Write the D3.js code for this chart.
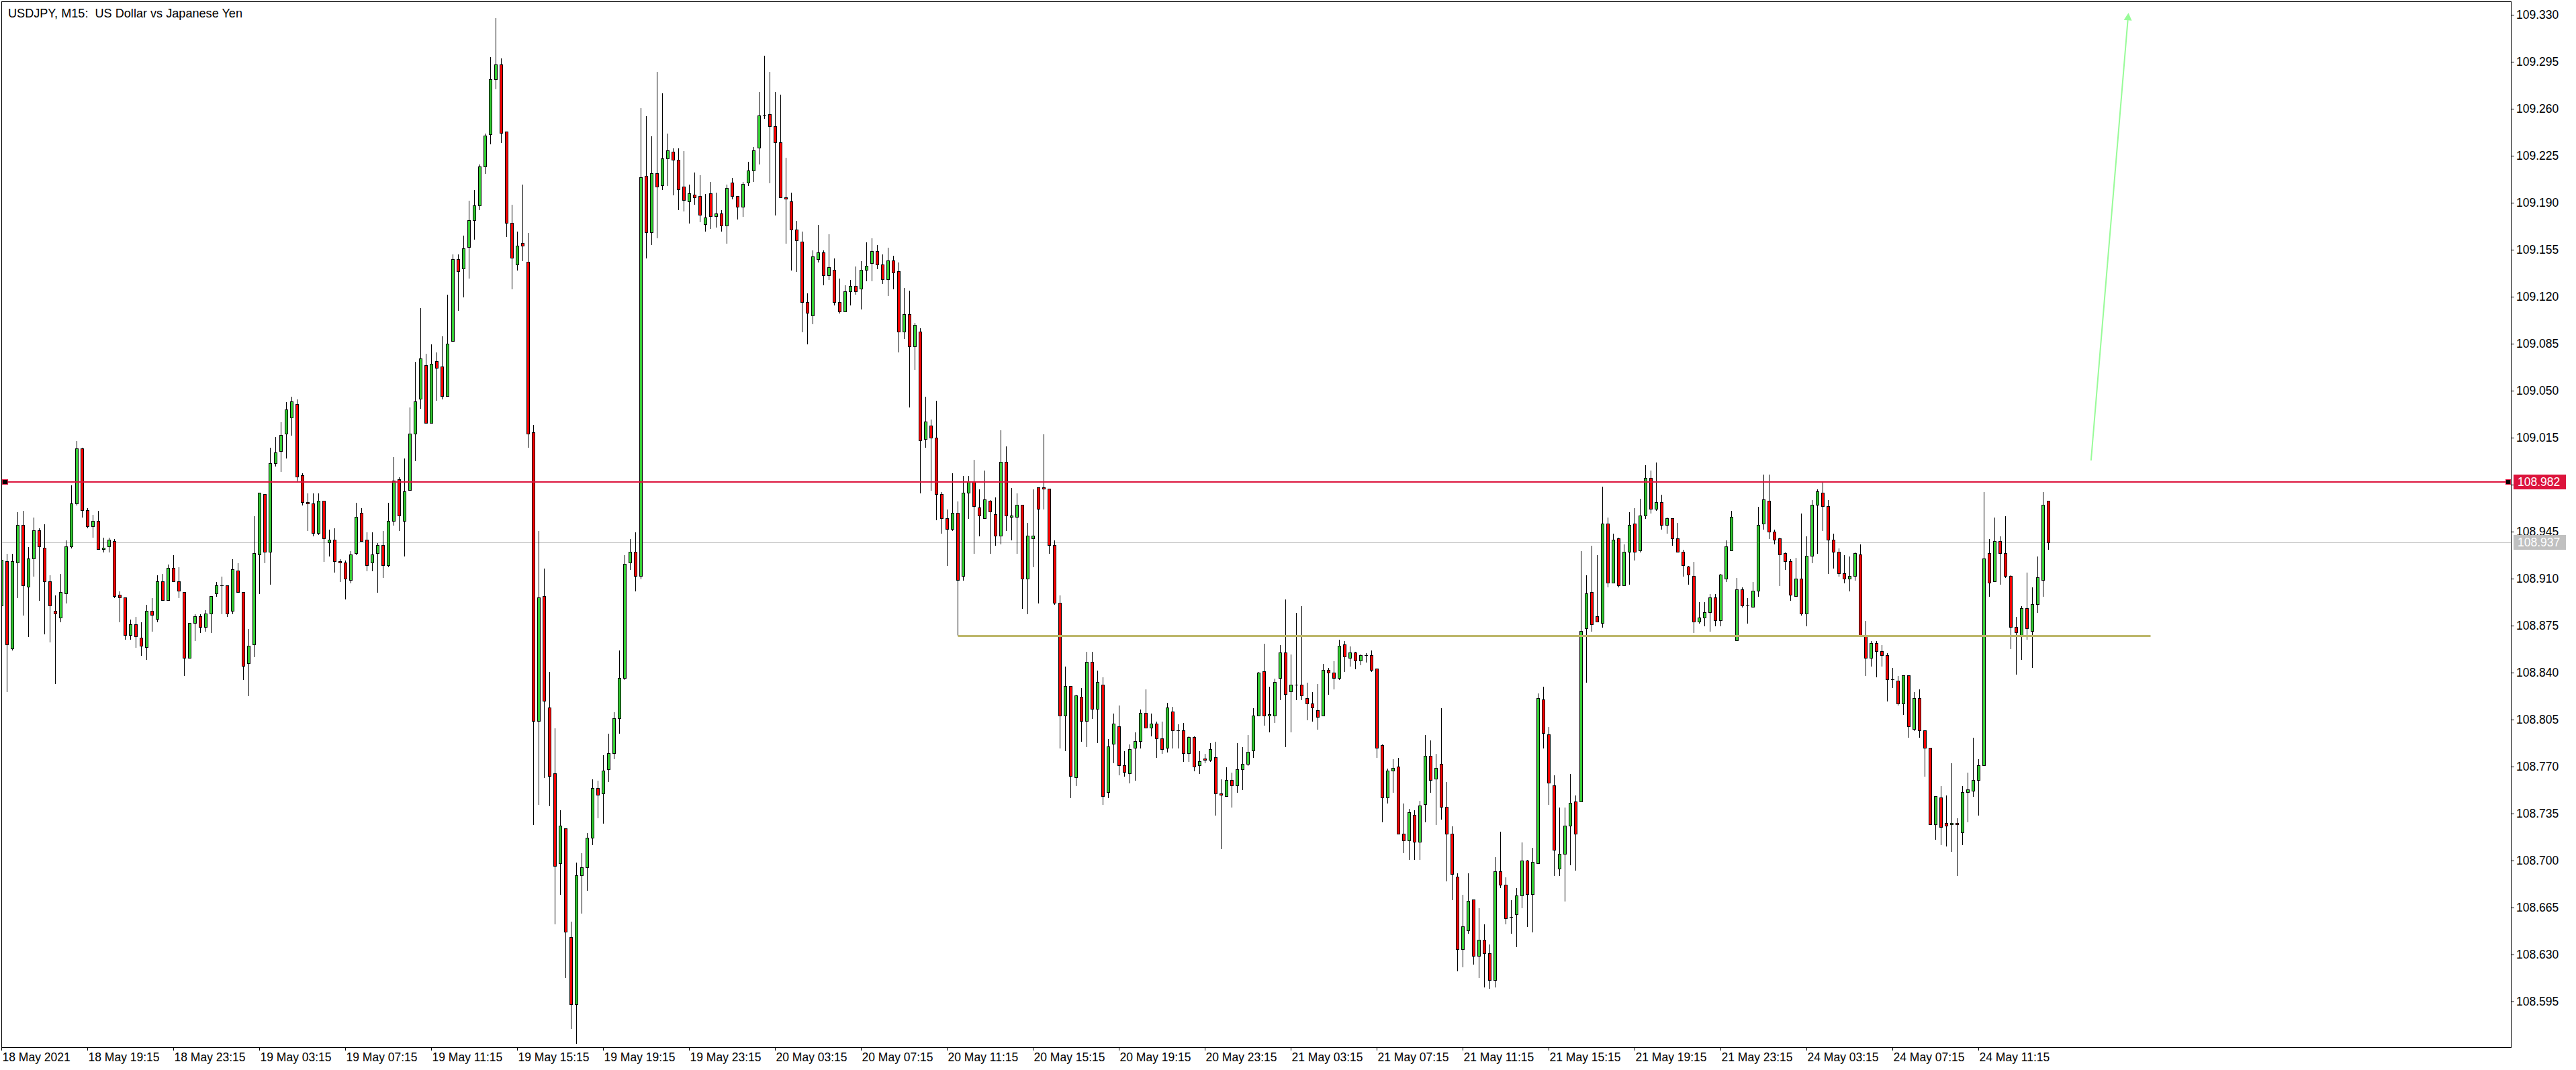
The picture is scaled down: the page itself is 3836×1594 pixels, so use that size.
<!DOCTYPE html>
<html><head><meta charset="utf-8">
<script src="https://cdn.jsdelivr.net/npm/d3@7"></script>
<style>
html,body{margin:0;padding:0;background:#fff;overflow:hidden;}
svg{display:block;}
</style></head><body>
<svg id="chart" width="3836" height="1594"></svg>
<script>
// ---- data (USDJPY M15, bars left to right) ----
const opens = [
108.890,108.923,108.858,108.922,108.950,108.904,108.925,108.946,108.933,108.908,
108.886,108.881,108.899,108.934,108.966,109.007,108.961,108.949,108.953,108.932,
108.934,108.938,108.898,108.896,108.868,108.876,108.866,108.859,108.886,108.880,
108.908,108.894,108.918,108.908,108.900,108.851,108.877,108.882,108.874,108.884,
108.899,108.905,108.905,108.886,108.916,108.900,108.847,108.861,108.928,108.973,
108.930,108.996,109.005,109.018,109.030,109.040,108.987,108.967,108.966,108.944,
108.968,108.937,108.939,108.923,108.922,108.909,108.929,108.959,108.939,108.922,
108.929,108.935,108.920,108.953,108.984,108.953,108.976,109.018,109.044,109.069,
109.026,109.072,109.068,109.046,109.087,109.148,109.141,109.157,109.177,109.188,
109.217,109.241,109.282,109.293,109.243,109.175,109.144,109.160,109.146,109.019,
108.804,108.897,108.814,108.765,108.698,108.724,108.643,108.593,108.689,108.695,
108.717,108.754,108.750,108.768,108.780,108.806,108.836,108.922,108.930,108.912,
109.210,109.168,109.212,109.203,109.223,109.228,109.222,109.202,109.191,109.196,
109.195,109.174,109.197,109.180,109.182,109.173,109.205,109.195,109.187,109.205,
109.214,109.231,109.255,109.256,109.247,109.235,109.194,109.191,109.170,109.161,
109.116,109.106,109.148,109.153,109.136,109.140,109.116,109.109,109.124,109.128,
109.126,109.140,109.145,109.154,109.144,109.133,109.147,109.139,109.094,109.107,
109.083,109.094,109.014,109.024,109.015,108.973,108.955,108.947,108.959,108.912,
108.974,108.982,108.963,108.955,108.968,108.958,108.942,108.997,108.956,108.956,
108.965,108.910,108.940,108.978,108.978,108.977,108.935,108.892,108.808,108.830,
108.762,108.822,108.804,108.848,108.813,108.831,108.751,108.787,108.800,108.771,
108.765,108.784,108.789,108.810,108.799,108.802,108.791,108.784,108.811,108.797,
108.797,108.780,108.792,108.771,108.776,108.775,108.777,108.750,108.748,108.760,
108.756,108.768,108.772,108.782,108.808,108.841,108.808,108.808,108.836,108.855,
108.826,108.831,108.831,108.821,108.817,108.812,108.808,108.842,108.840,108.836,
108.861,108.851,108.855,108.849,108.853,108.853,108.843,108.786,108.747,108.767,
108.770,108.720,108.715,108.734,108.714,108.742,108.778,108.761,108.772,108.740,
108.720,108.688,108.634,108.648,108.671,108.629,108.641,108.631,108.611,108.692,
108.682,108.658,108.660,108.674,108.700,108.675,108.698,108.820,108.794,108.756,
108.694,108.705,108.726,108.744,108.744,108.873,108.900,108.882,108.877,108.951,
108.907,108.940,108.905,108.930,108.951,108.931,108.957,108.985,108.962,108.967,
108.950,108.955,108.940,108.930,108.919,108.912,108.878,108.881,108.885,108.896,
108.879,108.910,108.931,108.864,108.902,108.890,108.889,108.901,108.951,108.968,
108.945,108.940,108.929,108.923,108.897,108.910,108.884,108.927,108.965,108.974,
108.964,108.939,108.930,108.914,108.910,108.912,108.928,108.867,108.851,108.862,
108.856,108.853,108.835,108.834,108.817,108.838,108.798,108.821,108.797,108.784,
108.727,108.747,108.728,108.727,108.728,108.721,108.751,108.752,108.760,108.771,
108.929,108.908,108.938,108.929,108.912,108.874,108.868,108.888,108.871,108.891,
108.909,108.968];
const highs = [
108.935,108.929,108.929,108.960,108.961,108.934,108.956,108.948,108.951,108.913,
108.898,108.914,108.939,108.980,109.013,109.008,108.963,108.958,108.961,108.941,
108.941,108.940,108.901,108.896,108.880,108.882,108.878,108.891,108.896,108.913,
108.914,108.921,108.928,108.919,108.900,108.877,108.884,108.884,108.887,108.897,
108.908,108.912,108.905,108.925,108.922,108.900,108.873,108.957,108.974,108.973,
109.008,109.016,109.027,109.042,109.046,109.044,108.989,108.974,108.974,108.974,
108.968,108.947,108.948,108.925,108.924,108.931,108.967,108.963,108.945,108.945,
108.937,108.946,108.967,109.001,108.986,109.000,109.038,109.072,109.112,109.078,
109.085,109.079,109.091,109.122,109.152,109.152,109.166,109.192,109.200,109.219,
109.242,109.299,109.328,109.298,109.243,109.189,109.169,109.204,109.168,109.025,
108.946,108.918,108.841,108.799,108.738,108.724,108.655,108.699,108.706,108.721,
108.761,108.760,108.779,108.795,108.811,108.857,108.928,108.940,108.945,109.261,
109.255,109.240,109.288,109.272,109.242,109.231,109.231,109.229,109.204,109.213,
109.211,109.197,109.206,109.198,109.185,109.204,109.209,109.195,109.206,109.221,
109.232,109.273,109.300,109.288,109.273,109.271,109.224,109.198,109.177,109.169,
109.123,109.155,109.174,109.155,109.167,109.149,109.134,109.129,109.133,109.143,
109.147,109.161,109.164,109.159,109.152,109.157,109.151,109.146,109.127,109.125,
109.101,109.097,109.046,109.029,109.043,108.975,108.962,108.989,108.968,108.987,
108.987,108.999,108.977,108.991,108.969,108.971,109.021,109.009,108.978,108.974,
108.965,108.952,108.977,108.978,109.018,108.977,108.939,108.898,108.845,108.830,
108.824,108.829,108.856,108.856,108.842,108.837,108.791,108.810,108.816,108.782,
108.787,108.796,108.813,108.828,108.810,108.804,108.804,108.818,108.815,108.802,
108.803,108.793,108.793,108.782,108.780,108.788,108.789,108.761,108.770,108.766,
108.788,108.785,108.794,108.814,108.841,108.862,108.830,108.836,108.861,108.895,
108.854,108.885,108.890,108.833,108.826,108.832,108.847,108.844,108.849,108.865,
108.864,108.860,108.856,108.854,108.855,108.857,108.843,108.787,108.769,108.776,
108.777,108.743,108.739,108.738,108.745,108.794,108.790,108.780,108.814,108.759,
108.726,108.691,108.675,108.691,108.671,108.665,108.653,108.638,108.703,108.722,
108.688,108.671,108.680,108.714,108.701,108.710,108.825,108.830,108.800,108.764,
108.740,108.740,108.765,108.749,108.931,108.913,108.935,108.928,108.979,108.956,
108.944,108.941,108.936,108.960,108.963,108.970,108.995,108.991,108.997,108.973,
108.956,108.955,108.952,108.932,108.920,108.923,108.893,108.893,108.899,108.899,
108.914,108.939,108.961,108.911,108.904,108.896,108.908,108.964,108.988,108.988,
108.947,108.941,108.930,108.925,108.926,108.959,108.942,108.969,108.977,108.983,
108.969,108.944,108.933,108.928,108.927,108.930,108.936,108.879,108.864,108.864,
108.861,108.855,108.844,108.838,108.838,108.838,108.826,108.828,108.797,108.784,
108.748,108.756,108.749,108.773,108.732,108.756,108.766,108.792,108.776,108.975,
108.940,108.956,108.942,108.957,108.913,108.882,108.890,108.915,108.904,108.927,
108.975,108.968];
const lows = [
108.875,108.826,108.857,108.896,108.883,108.867,108.912,108.894,108.869,108.863,
108.832,108.878,108.892,108.933,108.965,108.956,108.948,108.941,108.932,108.930,
108.930,108.896,108.878,108.865,108.865,108.859,108.853,108.850,108.871,108.878,
108.894,108.894,108.908,108.896,108.838,108.851,108.864,108.870,108.871,108.870,
108.897,108.884,108.882,108.884,108.900,108.835,108.823,108.852,108.899,108.922,
108.906,108.994,108.990,109.000,109.017,108.983,108.965,108.946,108.942,108.943,
108.923,108.927,108.915,108.908,108.895,108.907,108.928,108.938,108.916,108.916,
108.900,108.911,108.919,108.950,108.946,108.927,108.976,108.998,109.037,109.026,
109.026,109.043,109.044,109.046,109.087,109.110,109.120,109.134,109.163,109.185,
109.212,109.234,109.275,109.235,109.165,109.126,109.140,109.147,109.008,108.727,
108.742,108.762,108.741,108.653,108.675,108.613,108.575,108.564,108.661,108.678,
108.712,108.732,108.728,108.759,108.776,108.795,108.835,108.917,108.901,108.910,
109.149,109.159,109.164,109.200,109.203,109.196,109.185,109.184,109.175,109.189,
109.176,109.169,109.171,109.172,109.169,109.160,109.193,109.178,109.180,109.203,
109.206,109.219,109.253,109.205,109.181,109.194,109.160,109.140,109.139,109.094,
109.085,109.100,109.146,109.129,109.133,109.114,109.108,109.109,109.114,109.122,
109.111,109.132,109.132,109.141,109.130,109.121,109.126,109.079,109.089,109.038,
109.066,108.974,109.008,108.976,108.954,108.944,108.920,108.946,108.868,108.909,
108.955,108.929,108.942,108.955,108.929,108.935,108.936,108.946,108.939,108.929,
108.888,108.884,108.919,108.892,108.962,108.929,108.891,108.784,108.782,108.747,
108.756,108.789,108.785,108.806,108.788,108.742,108.747,108.773,108.764,108.763,
108.758,108.760,108.784,108.799,108.793,108.777,108.780,108.781,108.784,108.784,
108.774,108.774,108.767,108.765,108.773,108.774,108.734,108.709,108.748,108.740,
108.751,108.753,108.771,108.777,108.808,108.801,108.796,108.803,108.820,108.785,
108.796,108.820,108.820,108.805,108.804,108.798,108.808,108.824,108.828,108.835,
108.841,108.845,108.843,108.846,108.848,108.841,108.777,108.729,108.743,108.751,
108.720,108.706,108.701,108.701,108.701,108.729,108.751,108.727,108.731,108.685,
108.671,108.618,108.621,108.646,108.623,108.613,108.606,108.605,108.606,108.680,
108.653,108.646,108.636,108.665,108.651,108.647,108.698,108.784,108.742,108.689,
108.689,108.670,108.697,108.693,108.744,108.833,108.871,108.878,108.874,108.904,
108.907,108.904,108.905,108.906,108.924,108.930,108.955,108.959,108.961,108.947,
108.944,108.935,108.930,108.912,108.906,108.870,108.877,108.875,108.871,108.875,
108.875,108.908,108.931,108.864,108.889,108.877,108.889,108.897,108.947,108.940,
108.936,108.905,108.917,108.894,108.897,108.883,108.875,108.922,108.929,108.946,
108.914,108.918,108.912,108.907,108.901,108.909,108.868,108.838,108.845,108.837,
108.845,108.819,108.829,108.816,108.809,108.792,108.797,108.792,108.763,108.727,
108.716,108.712,108.711,108.707,108.689,108.712,108.729,108.748,108.734,108.771,
108.897,108.908,108.906,108.911,108.858,108.839,108.850,108.865,108.844,108.885,
108.897,108.932];
const closes = [
108.924,108.861,108.923,108.950,108.905,108.925,108.946,108.934,108.908,108.890,
108.884,108.900,108.934,108.966,109.007,108.961,108.949,108.953,108.932,108.933,
108.939,108.897,108.896,108.868,108.876,108.867,108.860,108.886,108.883,108.908,
108.894,108.918,108.908,108.901,108.851,108.877,108.882,108.874,108.884,108.897,
108.905,108.905,108.884,108.917,108.900,108.845,108.860,108.929,108.974,108.930,
108.996,109.004,109.017,109.036,109.042,108.986,108.967,108.966,108.944,108.968,
108.940,108.939,108.923,108.922,108.910,108.928,108.956,108.938,108.920,108.928,
108.935,108.920,108.953,108.983,108.957,108.975,109.018,109.042,109.074,109.026,
109.070,109.067,109.046,109.085,109.148,109.139,109.156,109.177,109.188,109.217,
109.240,109.282,109.293,109.242,109.175,109.149,109.158,109.158,109.018,108.804,
108.896,108.819,108.763,108.696,108.726,108.647,108.593,108.689,108.695,108.717,
108.754,108.749,108.767,108.780,108.806,108.836,108.921,108.930,108.912,109.209,
109.168,109.212,109.202,109.223,109.229,109.222,109.200,109.192,109.197,109.194,
109.181,109.179,109.180,109.182,109.173,109.201,109.195,109.187,109.204,109.214,
109.229,109.255,109.255,109.247,109.235,109.194,109.193,109.170,109.162,109.116,
109.108,109.150,109.153,109.136,109.142,109.116,109.109,109.124,109.128,109.124,
109.140,109.143,109.154,109.144,109.133,109.147,109.138,109.094,109.107,109.083,
109.099,109.013,109.027,109.015,108.973,108.955,108.947,108.959,108.909,108.974,
108.982,108.964,108.957,108.969,108.960,108.942,108.997,108.957,108.957,108.965,
108.910,108.942,108.942,108.962,108.977,108.935,108.892,108.808,108.830,108.763,
108.823,108.804,108.848,108.813,108.833,108.748,108.785,108.802,108.771,108.766,
108.783,108.789,108.810,108.799,108.802,108.791,108.783,108.814,108.797,108.797,
108.780,108.792,108.770,108.774,108.775,108.783,108.750,108.749,108.760,108.756,
108.768,108.772,108.781,108.808,108.840,108.808,108.809,108.833,108.855,108.824,
108.831,108.831,108.823,108.817,108.814,108.807,108.842,108.840,108.836,108.860,
108.852,108.855,108.849,108.853,108.853,108.842,108.784,108.747,108.767,108.769,
108.720,108.715,108.736,108.714,108.741,108.778,108.760,108.769,108.740,108.720,
108.690,108.634,108.651,108.670,108.629,108.641,108.631,108.611,108.692,108.682,
108.657,108.658,108.674,108.700,108.675,108.699,108.821,108.795,108.758,108.708,
108.705,108.726,108.743,108.720,108.871,108.899,108.876,108.878,108.951,108.907,
108.939,108.905,108.930,108.950,108.930,108.957,108.985,108.962,108.967,108.950,
108.955,108.940,108.930,108.920,108.913,108.878,108.881,108.885,108.896,108.879,
108.913,108.934,108.956,108.902,108.890,108.890,108.901,108.950,108.969,108.945,
108.939,108.928,108.923,108.898,108.910,108.884,108.927,108.965,108.975,108.964,
108.939,108.930,108.914,108.910,108.912,108.929,108.868,108.851,108.862,108.856,
108.853,108.835,108.835,108.817,108.838,108.800,108.821,108.797,108.784,108.727,
108.748,108.725,108.726,108.728,108.727,108.751,108.753,108.760,108.771,108.925,
108.907,108.938,108.929,108.912,108.874,108.870,108.888,108.873,108.891,108.911,
108.965,108.937];

const priceTicks = [109.330,109.295,109.260,109.225,109.190,109.155,109.120,109.085,109.050,109.015,
  108.980,108.945,108.910,108.875,108.840,108.805,108.770,108.735,108.700,108.665,108.630,108.595];
const timeTickBars = [0,16,32,48,64,80,96,112,128,144,160,176,192,208,224,240,256,272,288,304,320,336,352,368];
const timeTickLabels = ["18 May 2021","18 May 19:15","18 May 23:15","19 May 03:15","19 May 07:15","19 May 11:15",
  "19 May 15:15","19 May 19:15","19 May 23:15","20 May 03:15","20 May 07:15","20 May 11:15","20 May 15:15",
  "20 May 19:15","20 May 23:15","21 May 03:15","21 May 07:15","21 May 11:15","21 May 15:15","21 May 19:15",
  "21 May 23:15","24 May 03:15","24 May 07:15","24 May 11:15"];
const titleText = "USDJPY, M15:  US Dollar vs Japanese Yen";
const resistancePrice = 108.982;
const bidPrice = 108.937;
const supportLevel = [178, 400, 108.8675];          // [from bar, to bar, price]
const arrowFrom = [388.98, 108.998], arrowTo = [395.94, 109.3314]; // [bar, price]

// ---- layout ----
const W = 3836, H = 1594;
const L = 2, T = 2, R = 3739, B = 1560;
const FONT = "'Liberation Sans', Arial, sans-serif";
const svg = d3.select("#chart");
svg.append("rect").attr("width", W).attr("height", H).attr("fill", "#fff");

const x = d3.scaleLinear().domain([0, 1]).range([2, 10]);
const y = d3.scaleLinear().domain([108.595, 109.330]).range([1492, 22]);
const snap = v => Math.round(v) + 0.5;

svg.append("defs").append("clipPath").attr("id", "plotclip")
  .append("rect").attr("x", L + 0.5).attr("y", T + 0.5).attr("width", R - L).attr("height", B - T);

const plot = svg.append("g").attr("clip-path", "url(#plotclip)");

// bid line
plot.append("line").attr("x1", L).attr("x2", R).attr("y1", snap(y(bidPrice))).attr("y2", snap(y(bidPrice)))
  .attr("stroke", "#c0c0c0").attr("stroke-width", 1).attr("shape-rendering", "crispEdges");

// candles
const bars = d3.range(opens.length).map(i => ({ i, o: opens[i], h: highs[i], l: lows[i], c: closes[i] }));
const cg = plot.append("g").attr("shape-rendering", "crispEdges");
cg.selectAll("line.wick").data(bars).join("line").attr("class", "wick")
  .attr("x1", d => x(d.i) + 0.5).attr("x2", d => x(d.i) + 0.5)
  .attr("y1", d => snap(y(d.h))).attr("y2", d => snap(y(d.l)))
  .attr("stroke", "#000").attr("stroke-width", 1);
cg.selectAll("rect.body").data(bars.filter(d => d.o !== d.c)).join("rect").attr("class", "body")
  .attr("x", d => x(d.i) - 1.5)
  .attr("y", d => snap(y(Math.max(d.o, d.c))))
  .attr("width", 4)
  .attr("height", d => Math.max(2, snap(y(Math.min(d.o, d.c))) - snap(y(Math.max(d.o, d.c)))))
  .attr("fill", d => d.c > d.o ? "#32cd32" : "#ff0000")
  .attr("stroke", "#000").attr("stroke-width", 1);
cg.selectAll("line.doji").data(bars.filter(d => d.o === d.c)).join("line").attr("class", "doji")
  .attr("x1", d => x(d.i) - 2).attr("x2", d => x(d.i) + 3)
  .attr("y1", d => snap(y(d.o))).attr("y2", d => snap(y(d.o)))
  .attr("stroke", "#000").attr("stroke-width", 1);

// support (khaki) level
plot.append("line")
  .attr("x1", x(supportLevel[0]) + 0.5).attr("x2", x(supportLevel[1]) + 0.5)
  .attr("y1", y(supportLevel[2]) + 0.5).attr("y2", y(supportLevel[2]) + 0.5)
  .attr("stroke", "#bdb76b").attr("stroke-width", 3);

// resistance (crimson) level
const ry = Math.round(y(resistancePrice));
plot.append("line").attr("x1", L).attr("x2", R).attr("y1", ry).attr("y2", ry)
  .attr("stroke", "#dc143c").attr("stroke-width", 2).attr("shape-rendering", "crispEdges");
plot.append("rect").attr("x", L + 1.5).attr("y", ry - 3.5).attr("width", 8).attr("height", 7)
  .attr("fill", "#000").attr("stroke", "#dc143c").attr("stroke-width", 1).attr("shape-rendering", "crispEdges");
plot.append("rect").attr("x", R - 7.5).attr("y", ry - 3.5).attr("width", 7).attr("height", 7)
  .attr("fill", "#000").attr("stroke", "#dc143c").attr("stroke-width", 1).attr("shape-rendering", "crispEdges");

// arrow
{
  const x0 = x(arrowFrom[0]), y0 = y(arrowFrom[1]), x1 = x(arrowTo[0]), y1 = y(arrowTo[1]);
  const dx = x1 - x0, dy = y1 - y0, len = Math.hypot(dx, dy), ux = dx / len, uy = dy / len;
  const hl = 11, hw = 6;
  const bx = x1 - ux * hl, by = y1 - uy * hl;
  plot.append("line").attr("x1", x0).attr("y1", y0).attr("x2", bx).attr("y2", by)
    .attr("stroke", "#98fb98").attr("stroke-width", 2);
  plot.append("path")
    .attr("d", `M${x1},${y1}L${bx - uy * hw},${by + ux * hw}L${bx + uy * hw},${by - ux * hw}Z`)
    .attr("fill", "#98fb98");
}

// frame
svg.append("rect").attr("x", L + 0.5).attr("y", T + 0.5).attr("width", R - L).attr("height", B - T)
  .attr("fill", "none").attr("stroke", "#000").attr("stroke-width", 1).attr("shape-rendering", "crispEdges");

// price axis
const ya = svg.append("g").attr("transform", `translate(${R},0)`)
  .call(d3.axisRight(y).tickValues(priceTicks).tickSize(5).tickPadding(3).tickFormat(d3.format(".3f")));
ya.select(".domain").remove();
ya.selectAll("line").attr("stroke", "#000").attr("shape-rendering", "crispEdges");
ya.selectAll("text").attr("font-family", FONT).attr("font-size", 17.5).attr("fill", "#000");

// time axis
const xa = svg.append("g").attr("transform", `translate(0,${B})`)
  .call(d3.axisBottom(x).tickValues(timeTickBars).tickSize(5).tickPadding(4)
    .tickFormat((d, i) => timeTickLabels[i]));
xa.select(".domain").remove();
xa.selectAll("line").attr("stroke", "#000").attr("shape-rendering", "crispEdges");
xa.selectAll("text").attr("font-family", FONT).attr("font-size", 17.5).attr("fill", "#000")
  .attr("text-anchor", "start").attr("x", 1);

// price labels on axis
function priceTag(p, fill) {
  const yy = Math.round(y(p));
  svg.append("rect").attr("x", R + 4).attr("y", yy - 11).attr("width", 78).attr("height", 22).attr("fill", fill);
  svg.append("text").attr("x", R + 10).attr("y", yy).attr("dy", "0.36em")
    .attr("font-family", FONT).attr("font-size", 17.5).attr("fill", "#fff").text(d3.format(".3f")(p));
}
priceTag(bidPrice, "#c0c0c0");
priceTag(resistancePrice, "#dc143c");

// title
svg.append("text").attr("x", 12).attr("y", 26).attr("font-family", FONT).attr("font-size", 19)
  .attr("textLength", 349).attr("lengthAdjust", "spacingAndGlyphs")
  .style("white-space", "pre").attr("fill", "#000").text(titleText);
</script>
</body></html>
